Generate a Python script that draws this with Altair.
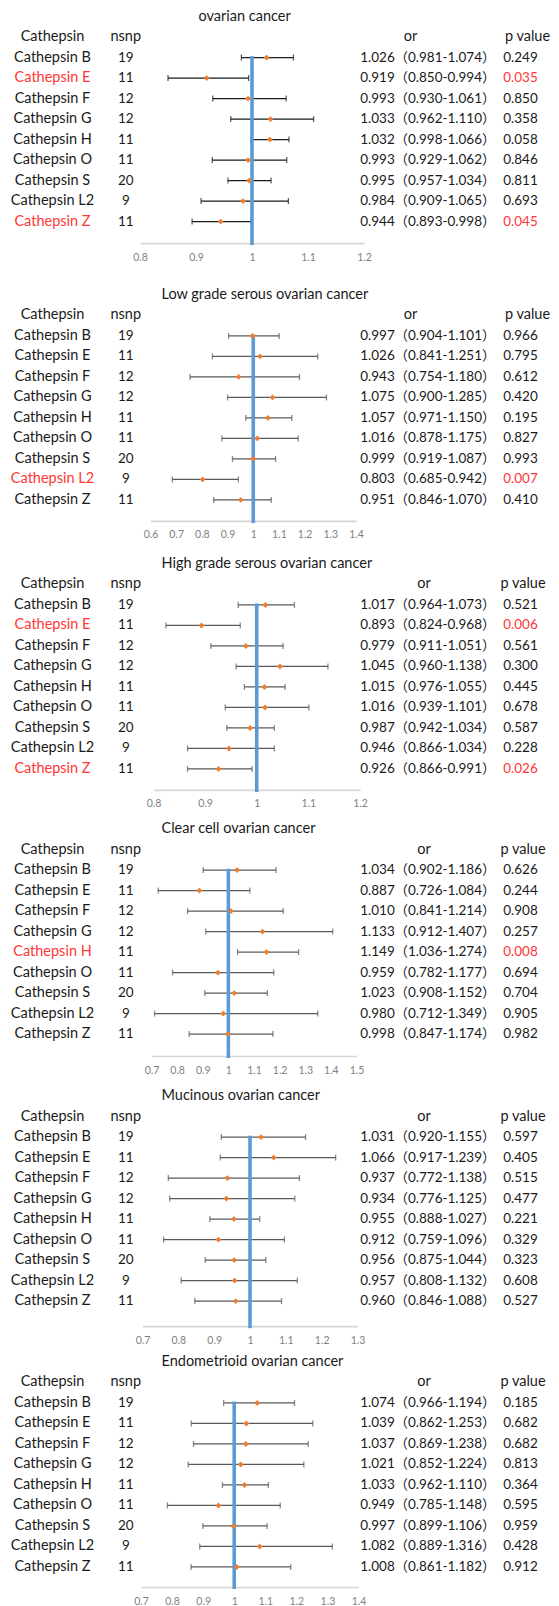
import altair as alt
import pandas as pd

genes = ["Cathepsin B", "Cathepsin E", "Cathepsin F", "Cathepsin G", "Cathepsin H",
         "Cathepsin O", "Cathepsin S", "Cathepsin L2", "Cathepsin Z"]
nsnp = [19, 11, 12, 12, 11, 11, 20, 9, 11]

titles = ["ovarian cancer", "Low grade serous ovarian cancer", "High grade serous ovarian cancer",
          "Clear cell ovarian cancer", "Mucinous ovarian cancer", "Endometrioid ovarian cancer"]

or_ov = [1.026, 0.919, 0.993, 1.033, 1.032, 0.993, 0.995, 0.984, 0.944]
lo_ov = [0.981, 0.850, 0.930, 0.962, 0.998, 0.929, 0.957, 0.909, 0.893]
hi_ov = [1.074, 0.994, 1.061, 1.110, 1.066, 1.062, 1.034, 1.065, 0.998]
p_ov = ["0.249", "0.035", "0.850", "0.358", "0.058", "0.846", "0.811", "0.693", "0.045"]

or_lgs = [0.997, 1.026, 0.943, 1.075, 1.057, 1.016, 0.999, 0.803, 0.951]
lo_lgs = [0.904, 0.841, 0.754, 0.900, 0.971, 0.878, 0.919, 0.685, 0.846]
hi_lgs = [1.101, 1.251, 1.180, 1.285, 1.150, 1.175, 1.087, 0.942, 1.070]
p_lgs = ["0.966", "0.795", "0.612", "0.420", "0.195", "0.827", "0.993", "0.007", "0.410"]

or_hgs = [1.017, 0.893, 0.979, 1.045, 1.015, 1.016, 0.987, 0.946, 0.926]
lo_hgs = [0.964, 0.824, 0.911, 0.960, 0.976, 0.939, 0.942, 0.866, 0.866]
hi_hgs = [1.073, 0.968, 1.051, 1.138, 1.055, 1.101, 1.034, 1.034, 0.991]
p_hgs = ["0.521", "0.006", "0.561", "0.300", "0.445", "0.678", "0.587", "0.228", "0.026"]

or_cc = [1.034, 0.887, 1.010, 1.133, 1.149, 0.959, 1.023, 0.980, 0.998]
lo_cc = [0.902, 0.726, 0.841, 0.912, 1.036, 0.782, 0.908, 0.712, 0.847]
hi_cc = [1.186, 1.084, 1.214, 1.407, 1.274, 1.177, 1.152, 1.349, 1.174]
p_cc = ["0.626", "0.244", "0.908", "0.257", "0.008", "0.694", "0.704", "0.905", "0.982"]

or_muc = [1.031, 1.066, 0.937, 0.934, 0.955, 0.912, 0.956, 0.957, 0.960]
lo_muc = [0.920, 0.917, 0.772, 0.776, 0.888, 0.759, 0.875, 0.808, 0.846]
hi_muc = [1.155, 1.239, 1.138, 1.125, 1.027, 1.096, 1.044, 1.132, 1.088]
p_muc = ["0.597", "0.405", "0.515", "0.477", "0.221", "0.329", "0.323", "0.608", "0.527"]

or_endo = [1.074, 1.039, 1.037, 1.021, 1.033, 0.949, 0.997, 1.082, 1.008]
lo_endo = [0.966, 0.862, 0.869, 0.852, 0.962, 0.785, 0.899, 0.889, 0.861]
hi_endo = [1.194, 1.253, 1.238, 1.224, 1.110, 1.148, 1.106, 1.316, 1.182]
p_endo = ["0.185", "0.682", "0.682", "0.813", "0.364", "0.595", "0.959", "0.428", "0.912"]

ticks_ov = [0.8, 0.9, 1, 1.1, 1.2]
ticks_lgs = [0.6, 0.7, 0.8, 0.9, 1, 1.1, 1.2, 1.3, 1.4]
ticks_hgs = [0.8, 0.9, 1, 1.1, 1.2]
ticks_cc = [0.7, 0.8, 0.9, 1, 1.1, 1.2, 1.3, 1.4, 1.5]
ticks_muc = [0.7, 0.8, 0.9, 1, 1.1, 1.2, 1.3]
ticks_endo = [0.7, 0.8, 0.9, 1, 1.1, 1.2, 1.3, 1.4]

series = [
    (or_ov, lo_ov, hi_ov, p_ov, ticks_ov),
    (or_lgs, lo_lgs, hi_lgs, p_lgs, ticks_lgs),
    (or_hgs, lo_hgs, hi_hgs, p_hgs, ticks_hgs),
    (or_cc, lo_cc, hi_cc, p_cc, ticks_cc),
    (or_muc, lo_muc, hi_muc, p_muc, ticks_muc),
    (or_endo, lo_endo, hi_endo, p_endo, ticks_endo),
]

# layout (pixels / row units) per panel
ROW = 20.5
SPACING = 20
tops = [-1.32, -2.51, -2.12, -1.93, -1.98, -1.73]
axis_rows = [10.05, 10.02, 10.02, 10.07, 10.22, 9.98]
xranges = [[132, 356], [142.5, 348], [145.5, 352], [143.5, 348.5], [134.5, 349.5], [133, 350.5]]
title_x = [190.5, 153.5, 153.5, 153.5, 153.5, 153.5]
or_head_x = [402.5, 402.5, 416, 416, 416, 416]
p_head_x = [519.5, 519.5, 515, 515, 515, 515]
bar_colors = ["#1a1a1a", "#595959", "#595959", "#595959", "#595959", "#595959"]

FONT = "Lato, Noto Sans CJK SC, sans-serif"
FS = 14.5
FSN = 13.5
RED = "#ff3636"
BLACK = "#1a1a1a"
W = 543


def panel(k):
    ors, los, his, ps, ticks = series[k]
    df = pd.DataFrame({
        "gene": genes, "nsnp": nsnp, "or": ors, "lo": los, "hi": his,
        "p": ps, "row": list(range(1, 10)),
    })
    df["pv"] = df["p"].astype(float)
    df["orl"] = df["or"].map(lambda v: f"{v:.3f}")
    df["ci"] = [f"（{a:.3f}-{b:.3f}）" for a, b in zip(los, his)]

    top, axr = tops[k], axis_rows[k]
    xsc = alt.Scale(domain=[ticks[0], ticks[-1]], range=xranges[k], nice=False, zero=False)
    ysc = alt.Scale(domain=[top, axr], reverse=True, nice=False, zero=False)
    Y = alt.Y("row:Q", scale=ysc, axis=None)
    color_cond = alt.condition(alt.datum.pv < 0.05, alt.value(RED), alt.value(BLACK))

    base = alt.Chart(df)

    xaxis = alt.Axis(values=ticks, format="~g", ticks=False, tickSize=0, grid=False,
                     domainColor="#d6d6d6", domainWidth=1.6, labelColor="#7f7f7f",
                     labelFont=FONT, labelFontSize=10.5, labelPadding=9, title=None,
                     labelFlush=False, labelOverlap=False)

    bars = base.mark_rule(color=bar_colors[k], strokeWidth=1.3).encode(
        x=alt.X("lo:Q", scale=xsc, axis=xaxis), x2="hi:Q", y=Y)
    cap_lo = base.mark_tick(orient="vertical", color=bar_colors[k], size=6, thickness=1.3).encode(
        x=alt.X("lo:Q", scale=xsc, title=None), y=Y)
    cap_hi = base.mark_tick(orient="vertical", color=bar_colors[k], size=6, thickness=1.3).encode(
        x=alt.X("hi:Q", scale=xsc, title=None), y=Y)

    ref = alt.Chart(pd.DataFrame({"v": [1]})).mark_rule(color="#5b9bd5", strokeWidth=3.6).encode(
        x=alt.X("v:Q", scale=xsc, title=None),
        y=alt.YDatum(0.93, scale=ysc, axis=None),
        y2=alt.datum(axr + 0.1),
    )

    pts = base.mark_point(shape="diamond", filled=True, color="#ed7d31", size=34, opacity=1).encode(
        x=alt.X("or:Q", scale=xsc, title=None), y=Y)

    def txt(field, xpx, fs, colored=False):
        enc = dict(text=f"{field}:N", x=alt.value(xpx), y=Y)
        enc["color"] = color_cond if colored else alt.value(BLACK)
        return base.mark_text(font=FONT, fontSize=fs, align="center", baseline="middle").encode(**enc)

    t_gene = txt("gene", 44.5, FS, colored=True)
    t_nsnp = txt("nsnp", 117.8, FSN)
    t_or = txt("orl", 369.5, FSN)
    t_ci = txt("ci", 437, FSN)
    t_p = txt("p", 512.5, FSN, colored=True)

    hdf = pd.DataFrame({
        "label": ["Cathepsin", "nsnp", "or", "p value"],
        "xp": [44.5, 117.8, or_head_x[k], p_head_x[k]],
        "row": [0, 0, 0, 0],
    })
    heads = alt.Chart(hdf).mark_text(font=FONT, fontSize=FS, align="center", baseline="middle",
                                     color=BLACK).encode(
        text="label:N", x=alt.X("xp:Q", scale=None), y=Y)

    tdf = pd.DataFrame({"label": [titles[k]], "row": [-1]})
    ttl = alt.Chart(tdf).mark_text(font=FONT, fontSize=FS, align="left", baseline="middle",
                                   color=BLACK).encode(
        text="label:N", x=alt.value(title_x[k]), y=Y)

    return alt.layer(bars, cap_lo, cap_hi, ref, pts, t_gene, t_nsnp, t_or, t_ci, t_p, heads, ttl).properties(
        width=W, height=(axr - top) * ROW)


chart = alt.vconcat(*[panel(k) for k in range(6)], spacing=SPACING, bounds="flush").properties(
    padding=0).configure_view(stroke=None)

chart.save("out.html", embed_options={"renderer": "svg", "actions": False})
